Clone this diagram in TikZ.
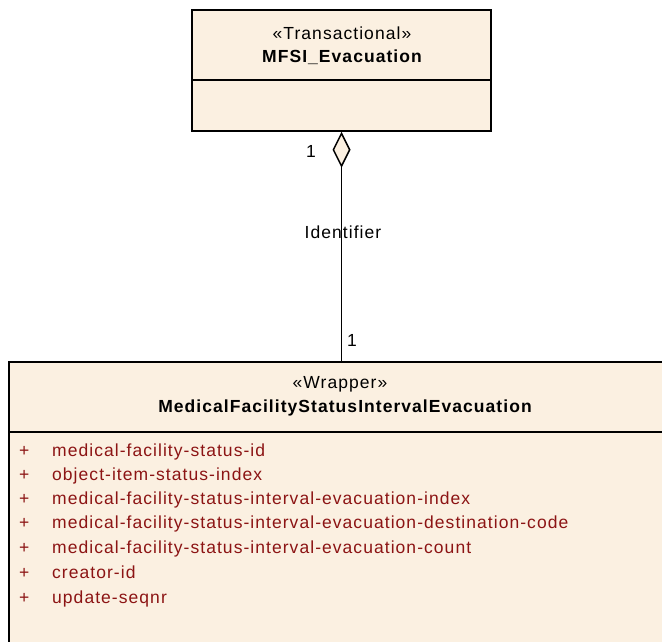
\documentclass[tikz,border=0pt]{standalone}
\usepackage{fontspec}
\setmainfont{Liberation Sans}[LetterSpace=6]
\usetikzlibrary{arrows.meta}
\definecolor{umlfill}{RGB}{251,240,225}
\definecolor{attrred}{RGB}{140,20,20}
\tikzset{
  classbox/.style={draw,fill=umlfill,line width=1.5pt,inner sep=0pt},
  umltext/.style={font=\fontsize{17.5}{20}\selectfont,inner sep=0pt},
  attr/.style={umltext,text=attrred,anchor=base west},
}

\begin{document}
\begin{tikzpicture}[x=1pt,y=-1pt]
  \useasboundingbox (0,0) rectangle (662,642);
  \clip (0,0) rectangle (662,642);
  \fill[white] (0,0) rectangle (662,642);
  % top class
  \node[classbox,minimum width=299pt,minimum height=121pt] (evac) at (341.5,70.5) {};
  \draw[line width=1.5pt] (evac.west |- 0,80) -- (evac.east |- 0,80);
  \node[umltext] (evacst) at (342,33) {«Transactional»};
  \node[umltext,font=\fontsize{17.5}{20}\selectfont\bfseries] (evacname) at (342,57) {MFSI\_Evacuation};
  % bottom class
  \node[classbox,minimum width=672pt,minimum height=338pt] (wrap) at (345,531) {};
  \draw[line width=1.5pt] (wrap.west |- 0,432) -- (wrap.east |- 0,432);
  \node[umltext] (wrapst) at (340,384) {«Wrapper»};
  \node[umltext,font=\fontsize{17.5}{20}\selectfont\bfseries] (wrapname) at (345,408) {MedicalFacilityStatusIntervalEvacuation};
  \node[attr] (p1) at (19,456) {+};
  \node[attr] (a1) at (52,456) {medical-facility-status-id};
  \node[attr] (p2) at (19,480) {+};
  \node[attr] (a2) at (52,480) {object-item-status-index};
  \node[attr] (p3) at (19,504) {+};
  \node[attr] (a3) at (52,504) {medical-facility-status-interval-evacuation-index};
  \node[attr] (p4) at (19,528) {+};
  \node[attr] (a4) at (52,528) {medical-facility-status-interval-evacuation-destination-code};
  \node[attr] (p5) at (19,553) {+};
  \node[attr] (a5) at (52,553) {medical-facility-status-interval-evacuation-count};
  \node[attr] (p6) at (19,578) {+};
  \node[attr] (a6) at (52,578) {creator-id};
  \node[attr] (p7) at (19,603) {+};
  \node[attr] (a7) at (52,603) {update-seqnr};
  % aggregation
  \draw[line width=1.5pt,-{Diamond[length=36pt,width=18pt,fill=umlfill,line width=1.5pt]}]
    (wrap.north -| evac.south) -- (evac.south);
  \node[umltext] (mtop) at (311,151) {1};
  \node[umltext] (mbot) at (352,340) {1};
  \node[umltext] (role) at (343,232) {Identifier};
\end{tikzpicture}
\end{document}
